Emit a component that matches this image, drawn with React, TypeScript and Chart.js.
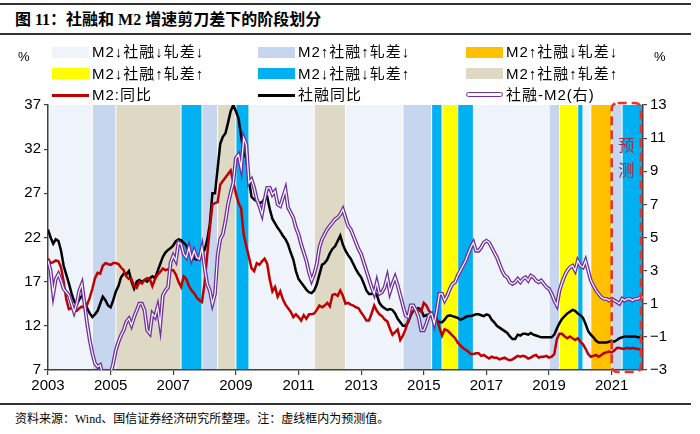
import React, { useEffect, useRef } from 'react';
import { Chart, registerables } from 'chart.js';

Chart.register(...registerables);

// ---------- categories (monthly, Jan 2003 .. Jan 2022) ----------
const START_YEAR = 2003;
const LAST_MONTH = '2022-01';
const MONTHS: string[] = [];
for (let y = START_YEAR; ; y++) {
  let done = false;
  for (let m = 1; m <= 12; m++) {
    const lab = `${y}-${String(m).padStart(2, '0')}`;
    MONTHS.push(lab);
    if (lab === LAST_MONTH) { done = true; break; }
  }
  if (done) break;
}

const TICK_YEARS = ['2003', '2005', '2007', '2009', '2011', '2013', '2015', '2017', '2019', '2021'];

// ---------- series ----------
// 社融同比 (%)
const TSF_YOY = [
  22.9, 22.0, 21.3, 21.8, 21.6, 20.5, 18.8, 17.8, 16.8, 15.7, 14.8, 14.4, // 2003
  15.0, 15.4, 14.8, 14.0, 13.4, 13.0, 13.3, 13.7, 14.5, 15.3, 14.9, 14.3, // 2004
  14.1, 14.9, 15.9, 16.5, 17.5, 17.9, 17.8, 18.2, 17.0, 16.2, 17.0, 17.2, // 2005
  17.0, 17.2, 17.0, 17.4, 17.6, 17.4, 18.2, 19.0, 19.8, 20.3, 20.6, 20.8, // 2006
  21.1, 21.6, 21.8, 21.7, 21.4, 21.1, 20.4, 20.3, 19.6, 19.5, 19.7, 20.3, // 2007
  20.6, 21.7, 23.5, 27.0, 27.0, 29.8, 32.6, 33.4, 33.8, 35.0, 36.3, 37.0, // 2008
  36.3, 35.5, 33.5, 31.5, 31.0, 28.5, 26.6, 26.3, 26.1, 25.9, 26.0, 26.4, // 2009
  26.6, 25.2, 24.1, 23.6, 23.1, 22.7, 22.2, 21.8, 21.2, 20.3, 19.5, 18.2, // 2010
  17.3, 16.9, 16.5, 16.1, 15.8, 15.7, 16.0, 16.7, 17.8, 18.9, 19.1, 19.5, // 2011
  20.2, 20.7, 21.0, 21.6, 22.2, 21.2, 20.5, 20.0, 19.6, 19.0, 18.4, 17.9, // 2012
  17.5, 16.8, 16.0, 15.6, 15.6, 15.8, 15.5, 14.6, 14.2, 14.0, 13.8, 13.9, // 2013
  13.8, 13.4, 12.8, 12.4, 12.0, 12.0, 12.4, 13.2, 13.7, 13.9, 14.0, 13.8, // 2014
  13.1, 13.2, 13.3, 13.1, 12.8, 12.6, 12.4, 12.4, 12.7, 13.1, 13.2, 13.1, // 2015
  13.0, 12.9, 12.7, 12.8, 13.0, 13.1, 13.1, 13.2, 13.3, 13.3, 13.2, 13.1, // 2016
  13.3, 13.2, 12.7, 12.4, 12.0, 11.8, 11.6, 11.4, 11.2, 10.8, 10.5, 10.5, // 2017
  11.0, 10.9, 11.1, 11.1, 11.0, 11.2, 11.0, 10.9, 10.8, 10.7, 10.7, 10.7, // 2018
  10.7, 10.7, 11.0, 11.7, 12.3, 12.8, 13.1, 13.4, 13.6, 13.8, 13.7, 13.4, // 2019
  13.2, 12.9, 12.2, 11.4, 11.0, 10.7, 10.3, 10.1, 10.1, 10.1, 10.1, 10.2, // 2020
  10.3, 10.2, 10.4, 10.6, 10.7, 10.8, 10.8, 10.8, 10.8, 10.8, 10.7, 10.7, // 2021
  10.6, // 2022-01
];

// M2:同比 (%)
const M2_YOY = [
  19.6, 19.1, 19.2, 19.4, 19.3, 18.6, 17.0, 15.0, 13.9, 14.0, 13.8, 13.7, // 2003
  14.0, 14.2, 14.0, 14.4, 15.2, 16.2, 17.4, 18.0, 17.9, 18.8, 19.1, 19.0, // 2004
  18.9, 19.1, 19.1, 19.0, 18.6, 18.3, 17.6, 17.3, 17.3, 16.5, 16.3, 17.0, // 2005
  16.8, 17.2, 17.4, 17.3, 16.5, 17.3, 17.8, 18.1, 18.5, 18.3, 18.4, 18.3, // 2006
  18.3, 17.8, 17.0, 16.4, 17.6, 17.3, 16.5, 16.0, 15.7, 15.2, 14.9, 14.7, // 2007
  16.8, 20.0, 23.0, 25.7, 25.9, 26.0, 28.0, 28.4, 28.8, 29.2, 29.6, 28.3, // 2008
  27.0, 25.9, 25.3, 22.3, 21.0, 19.8, 18.5, 18.2, 19.1, 18.9, 19.3, 19.6, // 2009
  19.0, 17.2, 15.9, 16.4, 15.3, 15.9, 15.0, 14.4, 14.0, 13.6, 13.0, 13.3, // 2010
  13.0, 12.6, 13.2, 12.8, 13.3, 13.3, 13.4, 13.8, 14.3, 14.1, 14.3, 14.6, // 2011
  14.2, 15.5, 15.6, 15.4, 16.0, 15.4, 14.5, 14.6, 14.4, 14.3, 14.1, 14.0, // 2012
  13.5, 13.1, 12.6, 12.6, 13.4, 14.3, 13.7, 13.3, 13.1, 12.7, 12.5, 11.7, // 2013
  11.0, 11.3, 11.6, 10.4, 10.9, 11.6, 12.6, 13.4, 13.7, 13.9, 13.8, 13.6, // 2014
  14.6, 14.3, 13.7, 13.4, 13.1, 12.8, 11.8, 10.9, 11.6, 11.5, 11.2, 10.9, // 2015
  10.6, 10.1, 9.8, 9.5, 9.3, 9.1, 8.8, 8.8, 8.9, 8.9, 8.6, 8.7, // 2016
  8.5, 8.3, 8.5, 8.4, 8.4, 8.2, 8.3, 8.4, 8.2, 8.1, 8.2, 8.4, // 2017
  8.6, 8.5, 8.6, 8.5, 8.3, 8.4, 8.6, 8.7, 8.4, 8.5, 8.5, 8.6, // 2018
  8.4, 8.5, 8.8, 10.5, 11.1, 11.1, 10.8, 10.6, 10.8, 10.6, 10.4, 10.6, // 2019
  10.2, 9.9, 9.4, 8.8, 8.5, 8.6, 8.7, 8.5, 8.7, 8.9, 9.0, 9.1, // 2020
  9.0, 9.2, 9.5, 9.5, 9.4, 9.4, 9.5, 9.4, 9.5, 9.4, 9.4, 9.3, // 2021
  9.3, // 2022-01
];

// 社融-M2 (右轴)
const SPREAD = [
  3.6, 3.0, 1.6, 2.5, 2.8, 2.4, 1.9, 1.7, 1.5, 1.0, 0.5, 1.0, // 2003
  1.8, 2.2, 1.0, -0.2, -1.2, -2.0, -2.6, -2.8, -2.7, -3.3, -3.6, -3.5, // 2004
  -3.2, -2.6, -1.8, -1.3, -0.9, -0.6, -0.1, 0.1, -0.3, 0.2, 0.6, 1.0, // 2005
  1.0, 0.6, -0.6, -0.8, 0.4, 0.2, 0.8, -0.3, 1.5, 1.8, 2.0, 3.5, // 2006
  3.9, 3.6, 4.7, 4.6, 4.0, 3.8, 4.4, 3.7, 4.2, 3.8, 3.7, 4.4, // 2007
  3.2, 2.2, 1.8, 1.0, 1.6, 3.9, 4.9, 5.2, 6.0, 7.0, 7.7, 8.3, // 2008
  9.8, 10.0, 9.2, 11.0, 10.6, 8.3, 8.5, 8.0, 7.3, 6.9, 6.4, 7.3, // 2009
  8.0, 8.0, 7.6, 7.8, 7.0, 6.9, 7.4, 7.9, 6.8, 6.5, 6.2, 5.6, // 2010
  5.2, 4.6, 4.1, 3.6, 2.9, 2.4, 2.8, 3.4, 4.4, 4.9, 5.2, 5.5, // 2011
  5.7, 5.9, 6.1, 6.2, 6.4, 6.7, 6.2, 5.7, 5.5, 5.1, 4.7, 4.3, // 2012
  4.0, 3.5, 3.0, 2.5, 2.0, 1.6, 2.3, 1.6, 1.7, 2.0, 2.6, 1.7, // 2013
  2.2, 2.6, 2.1, 1.5, 0.9, 0.3, 0.2, 0.9, 0.9, 0.6, 0.2, -0.6, // 2014
  -0.6, -0.2, 0.3, 0.4, -0.2, 0.6, 1.6, 1.6, 1.2, 1.5, 1.9, 2.2, // 2015
  2.3, 2.7, 3.0, 3.3, 3.6, 4.0, 4.4, 4.7, 4.2, 4.2, 4.4, 4.7, // 2016
  4.8, 4.7, 4.4, 4.1, 3.8, 3.4, 3.0, 2.7, 2.6, 2.3, 2.2, 2.3, // 2017
  2.5, 2.3, 2.5, 2.6, 2.4, 2.7, 2.6, 2.4, 2.3, 2.4, 2.2, 2.0, // 2018
  1.9, 1.6, 1.2, 0.9, 1.8, 2.3, 2.7, 3.0, 3.2, 3.3, 3.0, 3.6, // 2019
  3.3, 3.2, 3.6, 3.0, 2.4, 2.1, 1.8, 1.6, 1.4, 1.3, 1.3, 1.2, // 2020
  1.3, 1.2, 1.1, 1.0, 1.3, 1.2, 1.3, 1.3, 1.2, 1.3, 1.3, 1.4, // 2021
  1.4, // 2022-01
];

// ---------- regimes ----------
const REGIME_LABELS: Record<string, string> = {
  A: 'M2↓社融↓轧差↓',
  B: 'M2↑社融↑轧差↓',
  C: 'M2↑社融↓轧差↓',
  D: 'M2↓社融↑轧差↑',
  E: 'M2↓社融↓轧差↑',
  F: 'M2↑社融↑轧差↑',
};
const PERIOD_STARTS = ['2003-01', '2004-06', '2005-03', '2007-04', '2007-12', '2008-06', '2009-01', '2009-06', '2011-07', '2012-07', '2014-05', '2015-04', '2015-08', '2016-02', '2016-08', '2019-01', '2019-05', '2019-12', '2020-02', '2020-05', '2021-01', '2021-05'];
const PERIOD_REGIMES = ['A', 'B', 'F', 'E', 'B', 'F', 'E', 'A', 'F', 'A', 'B', 'E', 'D', 'E', 'A', 'B', 'D', 'E', 'A', 'C', 'B', 'E'];
const FORECAST_START = '2021-01';
const FORECAST_END = '2022-01';

const SERIES_LABELS = { m2: 'M2:同比', tsf: '社融同比', spread: '社融-M2(右)' };

// ---------- styles ----------
const REGIME_COLORS: Record<string, string> = {
  A: '#EFF3FA',
  B: '#C5D6EE',
  C: '#FFC000',
  D: '#FFFF00',
  E: '#00B0F0',
  F: '#DDD9C4',
};
const RED = '#C00000';
const PURPLE = '#7030A0';
const AXIS = '#404040';
const TICK_FONT = { family: "'Liberation Sans', Arial, sans-serif", size: 15 };

export default function App() {
  const ref = useRef<HTMLCanvasElement>(null);

  useEffect(() => {
    const canvas = ref.current;
    if (!canvas) return;

    const regimePlugin = {
      id: 'regimes',
      beforeDraw(chart: any) {
        const { ctx, chartArea: a } = chart;
        const x = chart.scales.x;
        ctx.save();
        for (let i = 0; i < PERIOD_STARTS.length; i++) {
          const s = MONTHS.indexOf(PERIOD_STARTS[i]);
          const e = i + 1 < PERIOD_STARTS.length ? MONTHS.indexOf(PERIOD_STARTS[i + 1]) : MONTHS.length - 1;
          const x0 = x.getPixelForValue(s);
          const x1 = x.getPixelForValue(e);
          ctx.fillStyle = REGIME_COLORS[PERIOD_REGIMES[i]];
          ctx.fillRect(x0 + 0.5, a.top, x1 - x0 - 1, a.bottom - a.top);
        }
        ctx.restore();
      },
    };

    const forecastPlugin = {
      id: 'forecast',
      afterDatasetsDraw(chart: any) {
        const { ctx, chartArea: a } = chart;
        const x = chart.scales.x;
        const x0 = x.getPixelForValue(MONTHS.indexOf(FORECAST_START));
        const x1 = x.getPixelForValue(MONTHS.indexOf(FORECAST_END)) - 2;
        ctx.save();
        ctx.setLineDash([9, 5]);
        ctx.lineWidth = 2.6;
        ctx.strokeStyle = '#E8342C';
        ctx.beginPath();
        if ((ctx as any).roundRect) (ctx as any).roundRect(x0, a.top - 2, x1 - x0, a.bottom - a.top + 4, 6);
        else ctx.rect(x0, a.top - 2, x1 - x0, a.bottom - a.top + 4);
        ctx.stroke();
        ctx.setLineDash([]);
        ctx.fillStyle = '#9E2A4B';
        ctx.font = "16px 'Noto Sans CJK SC'";
        ctx.textAlign = 'center';
        ctx.textBaseline = 'middle';
        const cx = (x0 + x1) / 2;
        ctx.fillText('预', cx, a.top + 40);
        ctx.fillText('测', cx, a.top + 65);
        ctx.restore();
      },
    };

    const lineBase = { pointRadius: 0, tension: 0, fill: false, clip: 0 } as any;

    const chart = new Chart(canvas, {
      type: 'line',
      data: {
        labels: MONTHS,
        datasets: [
          { ...lineBase, label: SERIES_LABELS.spread + ' inner', data: SPREAD, yAxisID: 'y1', borderColor: '#FFFFFF', borderWidth: 1.2, order: 0 },
          { ...lineBase, label: SERIES_LABELS.spread, data: SPREAD, yAxisID: 'y1', borderColor: PURPLE, borderWidth: 3.8, order: 1 },
          { ...lineBase, label: SERIES_LABELS.m2, data: M2_YOY, yAxisID: 'y', borderColor: RED, borderWidth: 2.5, order: 2 },
          { ...lineBase, label: SERIES_LABELS.tsf, data: TSF_YOY, yAxisID: 'y', borderColor: '#000000', borderWidth: 2.5, order: 3 },
        ],
      },
      options: {
        responsive: false,
        maintainAspectRatio: false,
        animation: false,
        events: [],
        layout: { padding: { top: 105, left: 0, right: 0, bottom: 0 } },
        plugins: { legend: { display: false }, tooltip: { enabled: false } },
        scales: {
          x: {
            type: 'category',
            offset: false,
            grid: { drawOnChartArea: false, color: AXIS, tickLength: 5, lineWidth: 1.2 },
            border: { color: AXIS, width: 1.5 },
            ticks: {
              autoSkip: false,
              maxRotation: 0,
              padding: 2,
              color: '#000',
              font: TICK_FONT,
              callback: (v: any) => MONTHS[v].slice(0, 4),
            },
            afterBuildTicks: (s: any) => {
              s.ticks = s.ticks.filter((t: any) => MONTHS[t.value] && MONTHS[t.value].endsWith('-01') && TICK_YEARS.includes(MONTHS[t.value].slice(0, 4)));
            },
            afterFit: (s: any) => { s.height = 30; },
          },
          y: {
            position: 'left',
            min: 7,
            max: 37,
            grid: { drawOnChartArea: false, color: AXIS, tickLength: 4, lineWidth: 1.2 },
            border: { color: AXIS, width: 1.5 },
            ticks: { stepSize: 5, color: '#000', font: TICK_FONT, padding: 3 },
            afterFit: (s: any) => { s.width = 48; },
          },
          y1: {
            position: 'right',
            min: -3,
            max: 13,
            grid: { drawOnChartArea: false, color: AXIS, tickLength: 4, lineWidth: 1.2 },
            border: { color: AXIS, width: 1.5 },
            ticks: {
              stepSize: 2,
              color: '#000',
              font: TICK_FONT,
              padding: 3,
              callback: (v: any) => (v < 0 ? '−' + Math.abs(v) : String(v)),
            },
            afterFit: (s: any) => { s.width = 57; },
          },
        },
      } as any,
      plugins: [regimePlugin, forecastPlugin],
    });
    return () => chart.destroy();
  }, []);

  const legendFont = "'Liberation Sans', Arial, 'Noto Sans CJK SC', sans-serif";
  const rows: { kind: 'box' | 'line'; key: string; label: string }[][] = [
    [{ kind: 'box', key: 'A', label: REGIME_LABELS.A }, { kind: 'box', key: 'B', label: REGIME_LABELS.B }, { kind: 'box', key: 'C', label: REGIME_LABELS.C }],
    [{ kind: 'box', key: 'D', label: REGIME_LABELS.D }, { kind: 'box', key: 'E', label: REGIME_LABELS.E }, { kind: 'box', key: 'F', label: REGIME_LABELS.F }],
    [{ kind: 'line', key: 'm2', label: SERIES_LABELS.m2 }, { kind: 'line', key: 'tsf', label: SERIES_LABELS.tsf }, { kind: 'line', key: 'spread', label: SERIES_LABELS.spread }],
  ];
  const colX = [52, 258, 466];
  const rowY = [52, 73.5, 95];

  const swatch = (kind: string, key: string, x: number, y: number) => {
    const w = 37;
    if (kind === 'box') {
      return <div style={{ position: 'absolute', left: x, top: y - 5.5, width: w, height: 11, background: REGIME_COLORS[key] }} />;
    }
    if (key === 'spread') {
      return <div style={{ position: 'absolute', left: x, top: y - 3, width: w - 2, height: 3, border: `1.3px solid ${PURPLE}`, borderRadius: 4, background: '#fff' }} />;
    }
    return <div style={{ position: 'absolute', left: x, top: y - 1.5, width: w, height: 3, background: key === 'm2' ? RED : '#000' }} />;
  };

  return (
    <div style={{ position: 'absolute', left: 0, top: 0, width: 700, height: 434, background: '#fff', overflow: 'hidden' }}>
      <div style={{ position: 'absolute', left: 0, top: 3, width: 691, height: 1.6, background: '#333' }} />
      <div style={{ position: 'absolute', left: 15, top: 8, height: 24, lineHeight: '24px', fontSize: 16, fontWeight: 'bold', fontFamily: "'Liberation Serif', 'Noto Sans CJK SC', serif", color: '#000', whiteSpace: 'nowrap' }}>
        图 11：社融和 M2 增速剪刀差下的阶段划分
      </div>
      <div style={{ position: 'absolute', left: 0, top: 33, width: 691, height: 1.6, background: '#333' }} />

      <canvas ref={ref} width={700} height={400} style={{ position: 'absolute', left: 0, top: 0, width: 700, height: 400 }} />

      <div style={{ position: 'absolute', left: 18, top: 47, height: 20, lineHeight: '20px', fontSize: 13, fontFamily: legendFont }}>%</div>
      <div style={{ position: 'absolute', left: 654, top: 47, height: 20, lineHeight: '20px', fontSize: 13, fontFamily: legendFont }}>%</div>

      {rows.map((row, ri) =>
        row.map((it, ci) => (
          <React.Fragment key={`${ri}-${ci}`}>
            {swatch(it.kind, it.key, colX[ci], rowY[ri])}
            <div style={{ position: 'absolute', left: colX[ci] + 40, top: rowY[ri] - 10, height: 20, lineHeight: '20px', fontSize: 15, letterSpacing: 1, fontFamily: legendFont, color: '#000', whiteSpace: 'nowrap' }}>
              {it.label}
            </div>
          </React.Fragment>
        ))
      )}

      <div style={{ position: 'absolute', left: 0, top: 403, width: 691, height: 1.6, background: '#333' }} />
      <div style={{ position: 'absolute', left: 15, top: 409, height: 20, lineHeight: '20px', fontSize: 12, fontFamily: "'Liberation Serif', 'Noto Sans CJK SC', serif", color: '#000', whiteSpace: 'nowrap' }}>
        资料来源：Wind、国信证券经济研究所整理。注：虚线框内为预测值。
      </div>
    </div>
  );
}
